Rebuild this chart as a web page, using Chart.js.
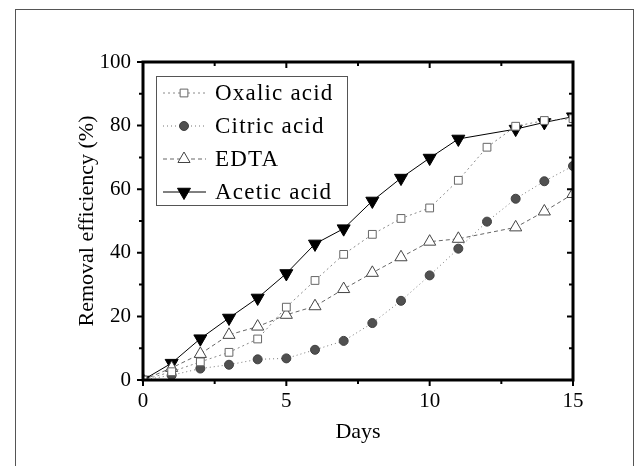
<!DOCTYPE html>
<html>
<head>
<meta charset="utf-8">
<script src="https://cdn.jsdelivr.net/npm/chart.js@4"></script>
<style>
  html, body { margin: 0; padding: 0; background: #fff; }
  #wrap { position: relative; width: 637px; height: 466px; overflow: hidden; }
  #frame { position: absolute; left: 15px; top: 9px; width: 617px; height: 480px; border: 1px solid #555; }
  #chart { position: absolute; left: 0; top: 0; }
</style>
</head>
<body>
<div id="wrap">
  <div id="frame"></div>
  <canvas id="chart" width="637" height="466"></canvas>
</div>
<script>
// removal efficiency (%) vs days
const days = [0, 1, 2, 3, 4, 5, 6, 7, 8, 9, 10, 11, 12, 13, 14, 15];
const oxalic = [0, 2.6, 5.7, 8.7, 12.9, 22.9, 31.3, 39.5, 45.8, 50.8, 54.1, 62.8, 73.2, 79.8, 81.6, 82.2];
const citric = [0, 1.5, 3.6, 4.8, 6.5, 6.8, 9.5, 12.3, 17.9, 24.9, 32.9, 41.3, 49.8, 57.0, 62.5, 67.3];
const edta   = [0, 3.8, 8.2, 14.2, 16.8, 20.5, 23.2, 28.6, 33.7, 38.6, 43.5, 44.4, null, 48.0, 53.0, 58.5];
const acetic = [0, 5.3, 13.0, 19.5, 25.8, 33.5, 42.8, 47.6, 56.3, 63.5, 69.8, 75.8, null, 78.9, 81.0, 82.8];

const xMajor = [0, 5, 10, 15];
const xMinor = [2.5, 7.5, 12.5];
const yMajor = [0, 20, 40, 60, 80, 100];
const yMinor = [10, 30, 50, 70, 90];

const SERIF = '"Liberation Serif", "Times New Roman", serif';

const pts = vals => days.map((d, i) => ({ x: d, y: vals[i] }));

// axis frame with ticks: outward on bottom/left, inward on top/right
const frameTicks = {
  id: 'frameTicks',
  afterDraw(chart) {
    const { ctx, chartArea: a, scales: { x, y } } = chart;
    ctx.save();
    ctx.strokeStyle = '#000';
    ctx.lineWidth = 2;
    ctx.beginPath();
    const xt = (v, len) => {
      const px = x.getPixelForValue(v);
      ctx.moveTo(px, a.bottom); ctx.lineTo(px, a.bottom + len);
      ctx.moveTo(px, a.top); ctx.lineTo(px, a.top + len);
    };
    const yt = (v, len) => {
      const py = y.getPixelForValue(v);
      ctx.moveTo(a.left, py); ctx.lineTo(a.left - len, py);
      ctx.moveTo(a.right, py); ctx.lineTo(a.right - len, py);
    };
    xMajor.forEach(v => xt(v, 6));
    xMinor.forEach(v => xt(v, 4));
    yMajor.forEach(v => yt(v, 6));
    yMinor.forEach(v => yt(v, 4));
    ctx.stroke();
    ctx.lineWidth = 3;
    ctx.strokeRect(a.left, a.top, a.right - a.left, a.bottom - a.top);
    ctx.restore();
  }
};

// boxed legend with line + marker samples
const boxLegend = {
  id: 'boxLegend',
  afterDraw(chart) {
    const { ctx, chartArea: a } = chart;
    const left = a.left + 13, top = a.top + 14;
    ctx.save();
    ctx.strokeStyle = '#555';
    ctx.lineWidth = 1;
    ctx.strokeRect(left + 0.5, top + 0.5, 191, 129);
    chart.data.datasets.forEach((ds, i) => {
      const cy = top + 17 + i * 33;
      ctx.strokeStyle = ds.borderColor;
      ctx.lineWidth = ds.borderWidth;
      ctx.setLineDash(ds.borderDash || []);
      ctx.beginPath();
      ctx.moveTo(left + 7, cy);
      ctx.lineTo(left + 50, cy);
      ctx.stroke();
      ctx.setLineDash([]);
      ctx.fillStyle = ds.pointBackgroundColor;
      ctx.strokeStyle = ds.pointBorderColor;
      Chart.helpers.drawPoint(ctx, {
        pointStyle: ds.pointStyle, rotation: ds.pointRotation || 0,
        radius: ds.pointRadius, borderWidth: 1
      }, left + 28, cy);
      ctx.fillStyle = '#000';
      ctx.font = '23px ' + SERIF;
      ctx.letterSpacing = '1.2px';
      ctx.textBaseline = 'middle';
      ctx.fillText(ds.label, left + 59, cy + 1);
    });
    ctx.restore();
  }
};

new Chart(document.getElementById('chart'), {
  type: 'line',
  data: {
    datasets: [
      { label: 'Oxalic acid', data: pts(oxalic), borderColor: '#8a8a8a', borderWidth: 1, borderDash: [2, 3],
        pointStyle: 'rect', pointRadius: 5.5, pointBackgroundColor: '#fff', pointBorderColor: '#666', pointBorderWidth: 1 },
      { label: 'Citric acid', data: pts(citric), borderColor: '#777', borderWidth: 1, borderDash: [1, 3],
        pointStyle: 'circle', pointRadius: 4.5, pointBackgroundColor: '#505050', pointBorderColor: '#404040', pointBorderWidth: 1 },
      { label: 'EDTA', data: pts(edta), borderColor: '#666', borderWidth: 1, borderDash: [4, 3],
        pointStyle: 'triangle', pointRadius: 7, pointBackgroundColor: '#fff', pointBorderColor: '#444', pointBorderWidth: 1 },
      { label: 'Acetic acid', data: pts(acetic), borderColor: '#000', borderWidth: 1,
        pointStyle: 'triangle', pointRotation: 180, pointRadius: 7.5, pointBackgroundColor: '#000', pointBorderColor: '#000', pointBorderWidth: 1 }
    ]
  },
  options: {
    responsive: false,
    animation: false,
    spanGaps: true,
    layout: { padding: { top: 62, right: 64, left: 0, bottom: 0 } },
    plugins: { legend: { display: false }, tooltip: { enabled: false } },
    scales: {
      x: {
        type: 'linear', min: 0, max: 15,
        grid: { display: false, drawTicks: false }, border: { display: false },
        ticks: { stepSize: 5, padding: 9, color: '#000', font: { family: SERIF, size: 21 } },
        title: { display: true, text: 'Days', color: '#000', font: { family: SERIF, size: 22 }, padding: { top: 0, bottom: 21 } },
        afterFit: s => { s.height = 86; }
      },
      y: {
        min: 0, max: 100,
        grid: { display: false, drawTicks: false }, border: { display: false },
        ticks: { stepSize: 20, padding: 12, color: '#000', font: { family: SERIF, size: 21 } },
        title: { display: true, text: 'Removal efficiency (%)', color: '#000', font: { family: SERIF, size: 22 }, padding: { top: 74, bottom: 0 } },
        afterFit: s => { s.width = 143; }
      }
    }
  },
  plugins: [frameTicks, boxLegend]
});
</script>
</body>
</html>
